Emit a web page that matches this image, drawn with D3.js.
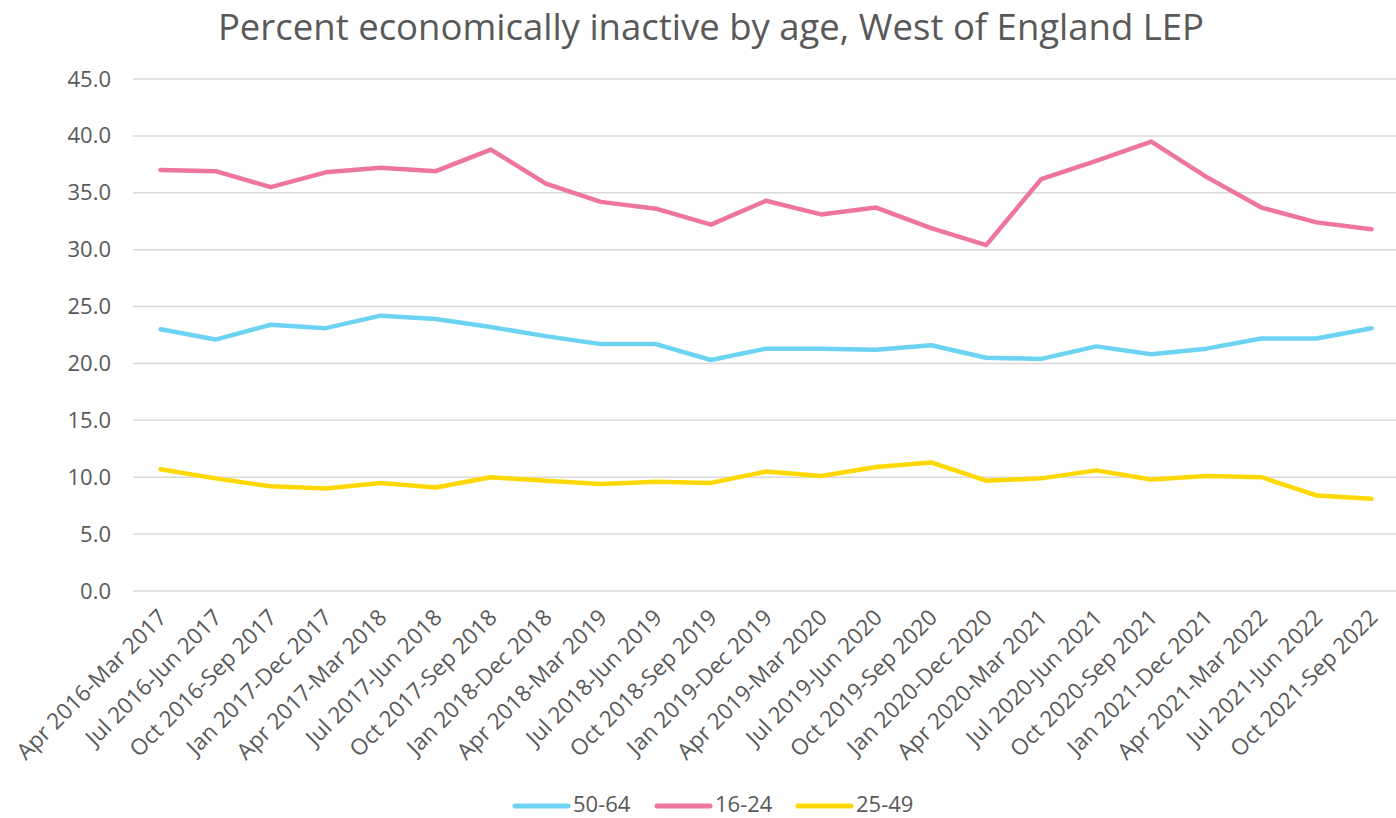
<!DOCTYPE html>
<html><head><meta charset="utf-8">
<script src="https://cdn.jsdelivr.net/npm/d3@7"></script>
<style>body{margin:0;background:#fff;} text{font-family:"Open Sans","DejaVu Sans",sans-serif;}</style>
</head><body>
<svg id="c" width="1396" height="818"></svg>
<script>
const categories = ["Apr 2016-Mar 2017","Jul 2016-Jun 2017","Oct 2016-Sep 2017","Jan 2017-Dec 2017","Apr 2017-Mar 2018","Jul 2017-Jun 2018","Oct 2017-Sep 2018","Jan 2018-Dec 2018","Apr 2018-Mar 2019","Jul 2018-Jun 2019","Oct 2018-Sep 2019","Jan 2019-Dec 2019","Apr 2019-Mar 2020","Jul 2019-Jun 2020","Oct 2019-Sep 2020","Jan 2020-Dec 2020","Apr 2020-Mar 2021","Jul 2020-Jun 2021","Oct 2020-Sep 2021","Jan 2021-Dec 2021","Apr 2021-Mar 2022","Jul 2021-Jun 2022","Oct 2021-Sep 2022"];
const age5064 = [23.0,22.1,23.4,23.1,24.2,23.9,23.2,22.4,21.7,21.7,20.3,21.3,21.3,21.2,21.6,20.5,20.4,21.5,20.8,21.3,22.2,22.2,23.1];
const age1624 = [37.0,36.9,35.5,36.8,37.2,36.9,38.8,35.8,34.2,33.6,32.2,34.3,33.1,33.7,31.9,30.4,36.2,37.8,39.5,36.4,33.7,32.4,31.8];
const age2549 = [10.7,9.9,9.2,9.0,9.5,9.1,10.0,9.7,9.4,9.6,9.5,10.5,10.1,10.9,11.3,9.7,9.9,10.6,9.8,10.1,10.0,8.4,8.1];
const seriesNames = ["50-64","16-24","25-49"];
const yTicks = [0,5,10,15,20,25,30,35,40,45];

const series = [
  {name: seriesNames[0], values: age5064, color: "#6dd3f2"},
  {name: seriesNames[1], values: age1624, color: "#ee769c"},
  {name: seriesNames[2], values: age2549, color: "#ffd800"}
];

const svg = d3.select("#c");
const L = 133, R = 1399, T = 79, B = 591;
const x = d3.scalePoint().domain(categories).range([L, R]).padding(0.5);
const y = d3.scaleLinear().domain([0, 45]).range([B, T]);
const txt = "#595959";
const ff = '"Open Sans","DejaVu Sans",sans-serif';

svg.append("text").attr("x", 711).attr("y", 40).attr("text-anchor", "middle")
  .attr("font-size", 36.5).attr("fill", txt)
  .text("Percent economically inactive by age, West of England LEP");

// grid
svg.append("g").selectAll("line").data(yTicks).join("line")
  .attr("x1", L).attr("x2", R).attr("y1", d => y(d)).attr("y2", d => y(d))
  .attr("stroke", "#d9d9d9").attr("stroke-width", 1.5);

// y axis
const ya = svg.append("g").attr("transform", `translate(${L},0)`)
  .call(d3.axisLeft(y).tickValues(yTicks).tickFormat(d3.format(".1f")).tickSize(0).tickPadding(22));
ya.select(".domain").remove();
ya.selectAll("text").attr("font-size", 22).attr("fill", txt).style("font-family", ff);

// x axis
const xa = svg.append("g").attr("transform", `translate(0,${B})`)
  .call(d3.axisBottom(x).tickSize(0).tickPadding(0));
xa.select(".domain").remove();
xa.selectAll("text").attr("font-size", 22.5).attr("fill", txt)
  .style("font-family", ff)
  .attr("text-anchor", "end").attr("dy", null).attr("y", 0)
  .attr("transform", "translate(7,28) rotate(-45)");

const line = d3.line().x((d, i) => x(categories[i])).y(d => y(d));
svg.append("g").selectAll("path").data(series).join("path")
  .attr("d", d => line(d.values)).attr("fill", "none")
  .attr("stroke", d => d.color).attr("stroke-width", 4.5)
  .attr("stroke-linejoin", "round").attr("stroke-linecap", "round");

// legend
const lg = svg.append("g");
const lx = [515, 657, 798];
series.forEach((s, i) => {
  lg.append("line").attr("x1", lx[i]).attr("x2", lx[i] + 53).attr("y1", 806).attr("y2", 806)
    .attr("stroke", s.color).attr("stroke-width", 5).attr("stroke-linecap", "round");
  lg.append("text").attr("x", lx[i] + 58).attr("y", 812).attr("font-size", 22).attr("fill", txt).text(s.name);
});
</script>
</body></html>
